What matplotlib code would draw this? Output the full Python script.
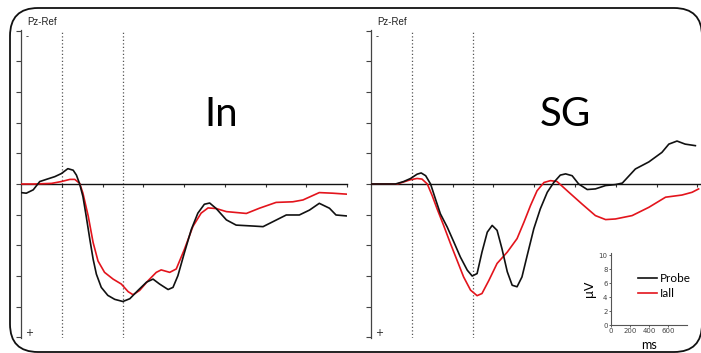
import matplotlib
matplotlib.use("Agg")
import matplotlib.pyplot as plt
from matplotlib.patches import FancyBboxPatch

# ---------------- data ----------------
# Left panel ("In")
in_probe_t = [-100, -87, -70, -54, -38, -17, -1, 15, 28, 36, 44, 52, 60, 69, 77, 85, 97, 113,
              130, 150, 167, 187, 208, 224, 240, 261, 273, 285, 301, 318, 334, 350, 363, 379,
              404, 428, 469, 494, 518, 551, 583, 608, 632, 657, 673, 698]
in_probe_v = [0.28, 0.3, 0.19, -0.08, -0.15, -0.24, -0.34, -0.5, -0.45, -0.29, 0.0, 0.41,
              1.05, 1.81, 2.45, 2.94, 3.37, 3.63, 3.76, 3.83, 3.74, 3.47, 3.2, 3.1, 3.26,
              3.44, 3.37, 2.99, 2.24, 1.48, 0.95, 0.66, 0.62, 0.8, 1.17, 1.34, 1.37, 1.39,
              1.23, 1.01, 1.01, 0.85, 0.63, 0.79, 1.01, 1.04]
in_iall_t = [-100, -66, -25, -1, 20, 32, 44, 52, 65, 77, 89, 105, 126, 146, 163, 175, 191,
             212, 232, 244, 265, 281, 301, 322, 342, 359, 379, 404, 453, 485, 526, 567, 592,
             632, 665, 698]
in_iall_v = [0.0, 0.0, -0.02, -0.08, -0.15, -0.15, -0.02, 0.3, 1.05, 1.91, 2.51, 2.88, 3.1,
             3.26, 3.51, 3.61, 3.47, 3.15, 2.88, 2.8, 2.88, 2.77, 2.13, 1.38, 0.95, 0.78,
             0.8, 0.9, 0.96, 0.79, 0.6, 0.58, 0.52, 0.28, 0.3, 0.33]

# Right panel ("SG")
sg_probe_t = [-100, -40, -20, -3, 13, 23, 34, 46, 58, 70, 87, 103, 119, 136, 148, 160, 172,
              185, 197, 209, 221, 234, 246, 258, 270, 283, 299, 315, 332, 348, 364, 377, 393,
              409, 430, 450, 475, 499, 516, 548, 581, 613, 630, 650, 670, 695]
sg_probe_v = [0.0, 0.0, -0.08, -0.18, -0.32, -0.36, -0.27, 0.0, 0.49, 0.97, 1.41, 1.89,
              2.38, 2.81, 3.0, 2.92, 2.22, 1.57, 1.35, 1.51, 2.11, 2.86, 3.3, 3.35, 3.03,
              2.32, 1.46, 0.81, 0.27, -0.05, -0.29, -0.33, -0.27, 0.0, 0.18, 0.16, 0.05,
              0.02, -0.03, -0.49, -0.72, -1.03, -1.3, -1.4, -1.3, -1.25]
sg_iall_t = [-100, -36, -24, -3, 13, 25, 38, 50, 62, 78, 95, 111, 127, 144, 160, 172, 189,
             209, 234, 258, 275, 291, 307, 324, 340, 356, 385, 417, 450, 475, 499, 540, 581,
             622, 662, 687, 703]
sg_iall_v = [0.0, 0.0, -0.05, -0.14, -0.18, -0.16, 0.0, 0.38, 0.81, 1.35, 1.95, 2.49, 3.03,
             3.46, 3.64, 3.57, 3.14, 2.59, 2.22, 1.78, 1.24, 0.7, 0.22, -0.05, -0.11, -0.08,
             0.27, 0.65, 1.03, 1.16, 1.14, 1.03, 0.76, 0.43, 0.36, 0.27, 0.16]

panel_titles = ["In", "SG"]
channel_label = "Pz-Ref"
series_names = ["Probe", "Iall"]
series_colors = ["#111111", "#e3141c"]
marker_times = [0, 150]

inset_xticks = [0, 200, 400, 600]
inset_yticks = [0, 2, 4, 6, 8, 10]

# ---------------- figure ----------------
W, H = 701, 353
fig = plt.figure(figsize=(W / 100, H / 100), dpi=100)

def frac(x0, y0, x1, y1):
    return [x0 / W, 1 - y1 / H, (x1 - x0) / W, (y1 - y0) / H]

# rounded border
bg = fig.add_axes([0, 0, 1, 1])
bg.set_xlim(0, W)
bg.set_ylim(H, 0)
bg.axis("off")
bg.add_patch(FancyBboxPatch((10, 8), 692, 344, boxstyle="round,pad=0,rounding_size=28",
                            fill=False, ec="#111111", lw=1.3))

panels = [
    (frac(21, 30, 347, 338), in_probe_t, in_probe_v, in_iall_t, in_iall_v, (221, 115)),
    (frac(371, 30, 700, 338), sg_probe_t, sg_probe_v, sg_iall_t, sg_iall_v, (565, 115)),
]

for i, (rect, pt, pv, it, iv, tpos) in enumerate(panels):
    ax = fig.add_axes(rect)
    ax.set_facecolor("none")
    ax.set_xlim(-100, -100 + (rect[2] * W) / 0.408)
    ax.set_ylim(5.02, -5.02)
    for s in ["top", "right"]:
        ax.spines[s].set_visible(False)
    ax.spines["left"].set_color("#444444")
    ax.spines["left"].set_linewidth(0.9)
    ax.spines["bottom"].set_position(("data", 0))
    ax.spines["bottom"].set_color("#111111")
    ax.spines["bottom"].set_linewidth(1.0)
    ax.set_yticks(range(-5, 6))
    ax.set_xticks(range(0, 701, 100))
    ax.tick_params(axis="y", direction="out", length=3.5, width=0.8, color="#444444",
                   labelleft=False)
    ax.tick_params(axis="x", direction="out", length=2.5, width=0.8, color="#333333",
                   labelbottom=False)
    for mt in marker_times:
        ax.axvline(mt, color="#555555", lw=0.9, ls=(0, (1, 1.8)), zorder=1)
    ax.plot(it, iv, color=series_colors[1], lw=1.2, zorder=3, solid_joinstyle="round")
    ax.plot(pt, pv, color=series_colors[0], lw=1.2, zorder=4, solid_joinstyle="round")

    x0 = rect[0] * W
    fig.text((x0 + 6) / W, 1 - 22 / H, channel_label, fontsize=7, family="Liberation Sans",
             va="center", ha="left", color="#222222")
    fig.text((x0 + 5) / W, 1 - 37 / H, "-", fontsize=6, va="center", ha="left", color="#222222")
    fig.text((x0 + 4) / W, 1 - 333 / H, "+", fontsize=7, va="center", ha="left", color="#222222")
    fig.text(tpos[0] / W, 1 - tpos[1] / H, panel_titles[i], fontsize=29, family="Lato",
             ha="center", va="center", color="black")

# inset legend / scale
ins = fig.add_axes(frac(611, 253, 687, 325))
ins.set_facecolor("white")
ins.set_xlim(0, 800)
ins.set_ylim(0, 10.3)
for s in ["top", "right"]:
    ins.spines[s].set_visible(False)
for s in ["left", "bottom"]:
    ins.spines[s].set_color("#555555")
    ins.spines[s].set_linewidth(0.8)
ins.set_xticks(inset_xticks)
ins.set_yticks(inset_yticks)
ins.tick_params(labelsize=5, length=1.5, width=0.6, pad=1, colors="#444444")
ins.set_xlabel("ms", fontsize=9, family="Lato", labelpad=3)
ins.set_ylabel("μV", fontsize=9, family="DejaVu Sans", labelpad=2)
h1, = ins.plot([], [], color=series_colors[0], lw=1.2, label=series_names[0])
h2, = ins.plot([], [], color=series_colors[1], lw=1.2, label=series_names[1])
ins.legend(handles=[h1, h2], loc="upper left", bbox_to_anchor=(0.28, 0.8), frameon=False,
           prop={"family": "Lato", "size": 8.5}, handlelength=1.6, handletextpad=0.2,
           labelspacing=0.3, borderpad=0)

fig.savefig("out.png", dpi=100)
